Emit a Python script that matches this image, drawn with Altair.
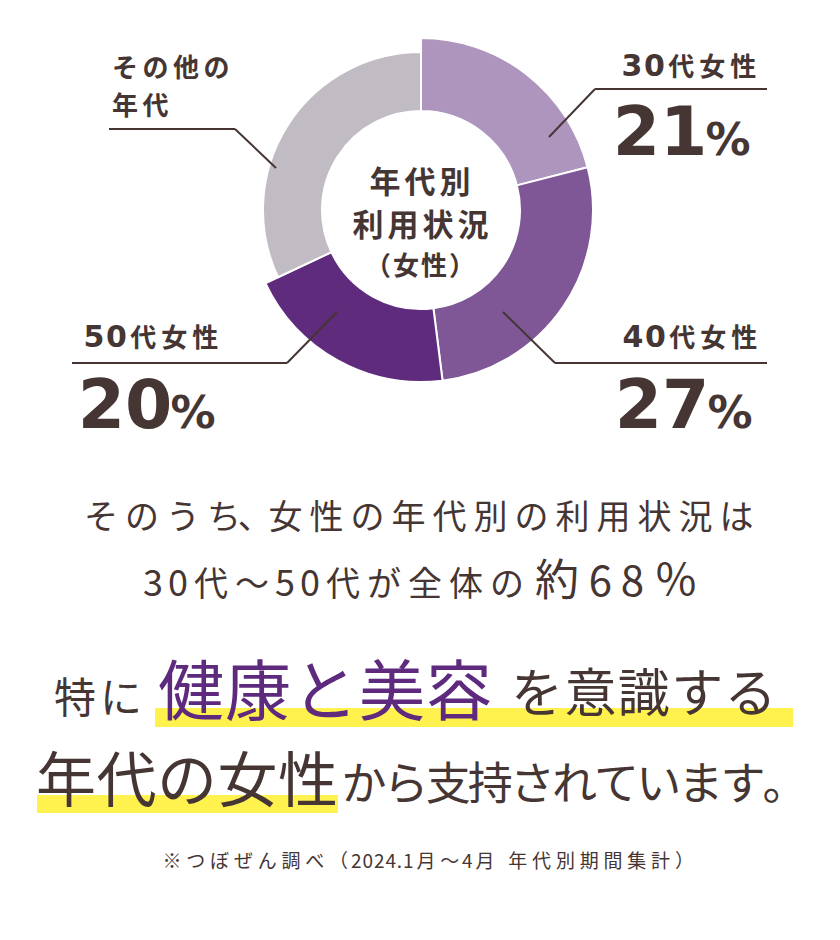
import altair as alt
import pandas as pd

# ---------------- data ----------------
ages = ["30代女性", "40代女性", "50代女性", "その他の年代"]
shares = [21, 27, 20, 32]
slice_colors = ["#ae95bd", "#7f5796", "#5f2b7d", "#c1bbc3"]

center_title = ["年代別", "利用状況", "（女性）"]
other_label_lines = ["その他の", "年代"]
summary_line1 = "そのうち、女性の年代別の利用状況は"
summary_line2a = "30代〜50代が全体の"
summary_line2b = "約68％"
headline_a = "特に"
headline_b = "健康と美容"
headline_c = "を意識する"
headline_d = "年代の女性"
headline_e = "から支持されています。"
footnote = "※つぼぜん調べ（2024.1月〜4月 年代別期間集計）"

# ---------------- style ----------------
INK = "#453634"
PURPLE = "#5e2a7e"
YELLOW = "#fff24f"
JP = "Noto Sans CJK JP"
LAT = "DejaVu Sans"
W, H = 840, 940
CX, CY = 421, 210

rows = []


def run(text, x_first, y, fs, pitch, nfs=None, npitch=None, color=INK,
        weight="normal", font=JP, nfont=None, half="", nwidth=None):
    nfs = nfs or fs
    npitch = npitch or pitch * 0.6
    nfont = nfont or font
    nwidth = nwidth or {}
    widths = []
    for c in text:
        if c in half:
            widths.append(pitch * 0.5)
        elif c in nwidth:
            widths.append(nwidth[c])
        elif ord(c) < 0x2000:
            widths.append(npitch)
        else:
            widths.append(pitch)
    x = x_first - widths[0] / 2
    for c, w in zip(text, widths):
        narrow = ord(c) < 0x2000
        rows.append({
            "ch": c, "x": x + w / 2, "y": y,
            "fs": nfs if narrow else fs,
            "color": color,
            "font": nfont if narrow else font,
            "weight": weight,
        })
        x += w


def word(text, x, y, fs, font=JP, weight="normal", color=INK):
    rows.append({"ch": text, "x": x, "y": y, "fs": fs, "color": color,
                 "font": font, "weight": weight})


# centre of donut
run(center_title[0], 385, 193, 31, 35, weight="bold")
run(center_title[1], 368, 236, 31, 35, weight="bold")
run(center_title[2], 378, 275, 26, 28, weight="bold")

# slice labels
run(other_label_lines[0], 125, 77, 26, 30.5, weight="bold")
run(other_label_lines[1], 125, 115, 26, 30.5, weight="bold")
run(ages[0], 632, 76, 26, 31, nfs=30, npitch=22.5, weight="bold", nfont=LAT)
run(ages[1], 633, 347, 26, 31, nfs=30, npitch=22.5, weight="bold", nfont=LAT)
run(ages[2], 94, 347, 26, 31, nfs=30, npitch=22.5, weight="bold", nfont=LAT)

# big percentages
big_pos = {0: (660, 155), 1: (662, 428), 2: (125, 428)}
for i, (bx, by) in big_pos.items():
    word(str(shares[i]), bx, by, 68, font=LAT, weight="bold")
    word("%", bx + 68, by, 45, font=LAT, weight="bold")

# summary text
run(summary_line1, 101, 529, 34, 41, nfs=34, npitch=25, half="、")
run(summary_line2a, 153, 596, 34, 41, nfs=36, npitch=25)
run(summary_line2b, 557, 596, 44, 55, nfs=42, npitch=32)

# headline
run(headline_a, 75, 713, 42, 46)
run(headline_b, 191, 715, 66, 67, color=PURPLE)
run(headline_c, 537, 712, 52, 53.4)
run(headline_d, 66, 802, 60, 60.5)
run(headline_e, 364, 800, 45, 42.1)

# footnote
run(footnote, 172, 868, 19, 23.8, nfs=19, npitch=11.5, nwidth={".": 6, " ": 9})

text_df = pd.DataFrame(rows)

# ---------------- layers ----------------
pie_df = pd.DataFrame({"age": ages, "share": shares, "idx": list(range(len(ages)))})

donut = alt.Chart(pie_df).transform_joinaggregate(
    total="sum(share)"
).transform_window(
    cum="sum(share)", sort=[alt.SortField("idx")], frame=[None, 0]
).transform_calculate(
    t1="datum.cum / datum.total",
    t0="(datum.cum - datum.share) / datum.total",
    r="datum.age == 'その他の年代' ? 158 : 172",
).mark_arc(innerRadius=99, stroke="white", strokeWidth=2).encode(
    theta=alt.Theta("t0:Q", scale=alt.Scale(domain=[0, 1], range=[0, 6.283185307179586])),
    theta2="t1:Q",
    color=alt.Color("age:N", scale=alt.Scale(domain=ages, range=slice_colors), legend=None),
    radius=alt.Radius("r:Q", scale=None),
    x=alt.value(CX),
    y=alt.value(CY),
)

# leader lines (annotation geometry)
seg = pd.DataFrame([
    (109, 129, 235, 129), (235, 129, 276, 168),
    (595, 89, 767, 89), (595, 89, 549, 137),
    (503, 312, 555, 363), (555, 363, 767, 363),
    (72, 363, 287, 363), (287, 363, 337, 312),
], columns=["x", "y", "x2", "y2"])
leaders = alt.Chart(seg).mark_rule(color=INK, strokeWidth=2).encode(
    x=alt.X("x:Q", scale=None, axis=None), y=alt.Y("y:Q", scale=None, axis=None),
    x2="x2:Q", y2="y2:Q",
)

hl = pd.DataFrame([(155, 708, 793, 727), (37, 795, 338, 813)],
                  columns=["x", "y", "x2", "y2"])
highlights = alt.Chart(hl).mark_rect(color=YELLOW).encode(
    x=alt.X("x:Q", scale=None, axis=None), y=alt.Y("y:Q", scale=None, axis=None),
    x2="x2:Q", y2="y2:Q",
)

text_layers = []
for (font, weight), g in text_df.groupby(["font", "weight"]):
    text_layers.append(
        alt.Chart(g.reset_index(drop=True)).mark_text(
            font=font, fontWeight=weight, align="center", baseline="alphabetic"
        ).encode(
            x=alt.X("x:Q", scale=None, axis=None),
            y=alt.Y("y:Q", scale=None, axis=None),
            text="ch:N",
            size=alt.Size("fs:Q", scale=None, legend=None),
            color=alt.Color("color:N", scale=None, legend=None),
        )
    )

chart = alt.layer(highlights, donut, leaders, *text_layers).properties(
    width=W, height=H, autosize="none", padding=0, background="white"
).configure_view(stroke=None)

chart.save("out.html", embed_options={"renderer": "svg", "actions": False})
